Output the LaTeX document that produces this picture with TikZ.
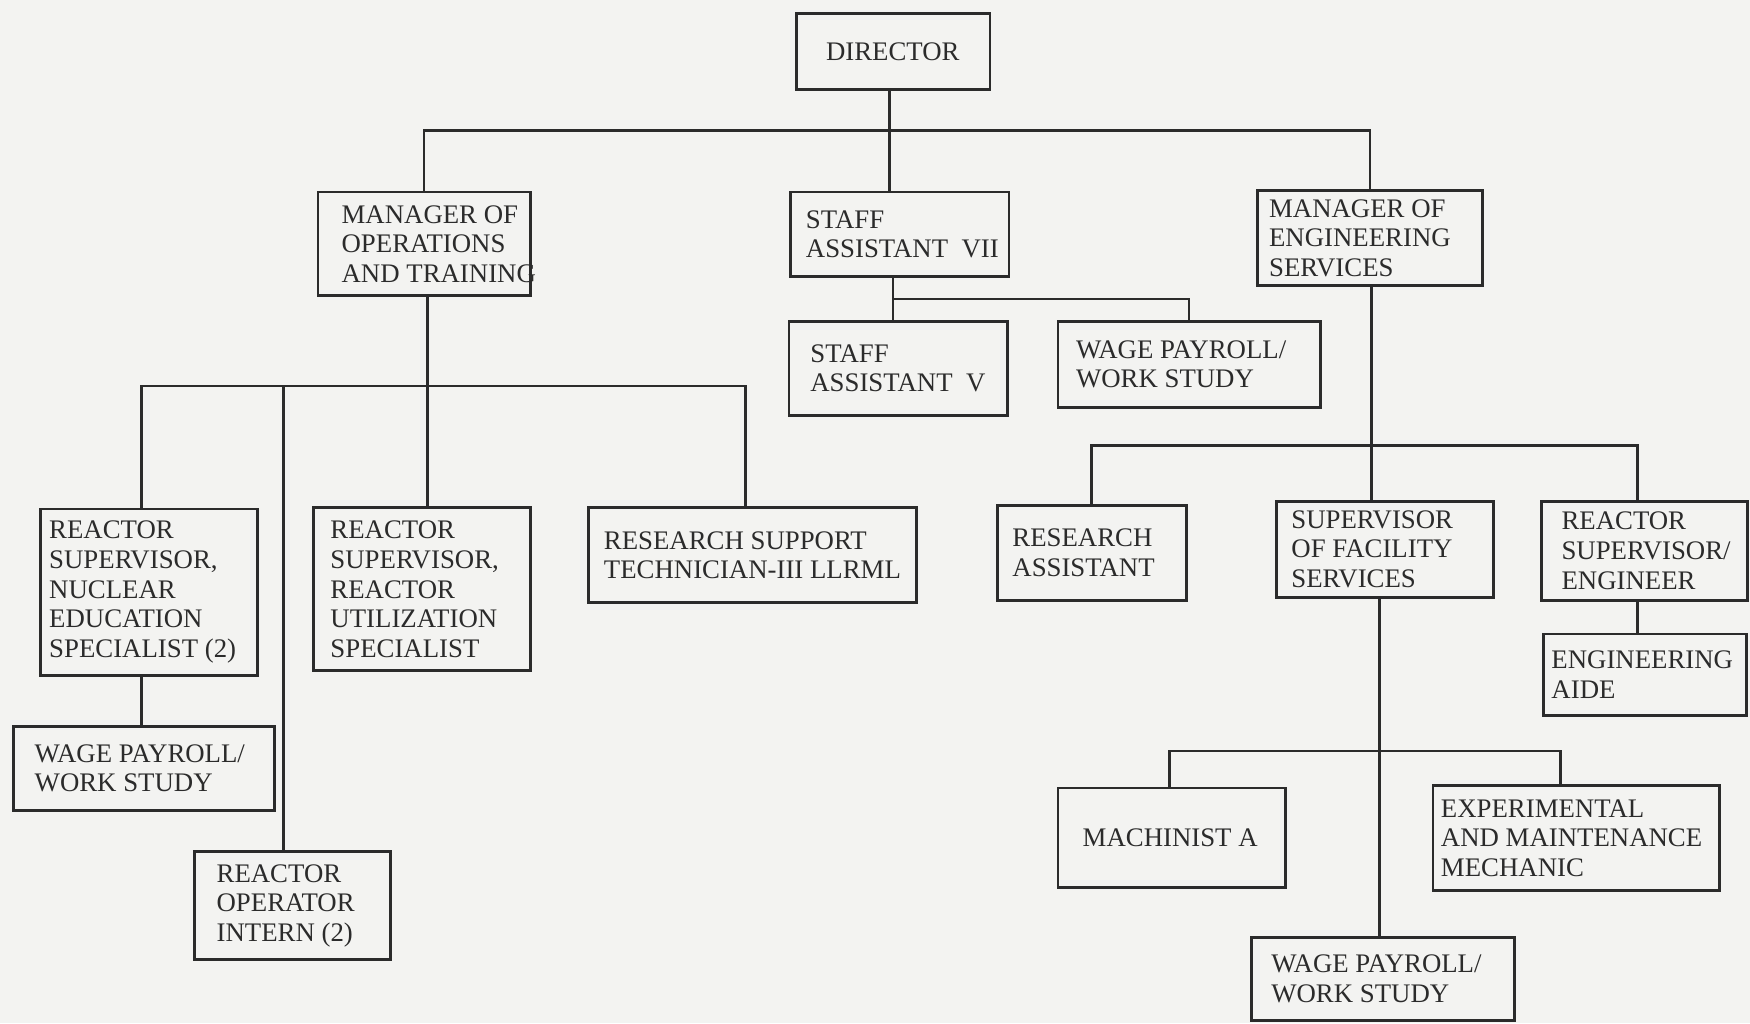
\documentclass[tikz,border=0pt]{standalone}
\usepackage{fontspec}
\setmainfont{Liberation Serif}
\usetikzlibrary{fit,calc}
\definecolor{ink}{HTML}{2B2B2B}
\definecolor{paper}{HTML}{F3F3F1}
\newcommand\orgbox[7]{%
  \node[box, fit={(#2,#3)(#4,#5)}] (#1) {};
  \node[lbl] (#1-t) at ($(#1.west)+(#6,0)$) {#7};}
\begin{document}
\begin{tikzpicture}[x=0.558pt,y=-0.558pt,
  box/.style={draw=ink, line width=1.4pt, inner sep=0pt},
  lbl/.style={anchor=west, align=left, inner sep=0pt, text=ink,
    font=\fontsize{13.4}{14.8}\selectfont},
  conn/.style={draw=ink, line width=1.3pt}]
\fill[paper] (0,0) rectangle (1568,917);
\useasboundingbox (0,0) rectangle (1568,917);

\orgbox{dir}{714}{12}{887}{80}{27}{DIRECTOR}
\orgbox{mops}{285}{172}{475}{265}{22}{MANAGER OF\\OPERATIONS\\AND TRAINING}
\orgbox{sa7}{708}{172}{904}{248}{15}{STAFF\\ASSISTANT~ VII}
\orgbox{meng}{1127}{171}{1328}{256}{11}{MANAGER OF\\ENGINEERING\\SERVICES}
\orgbox{sa5}{707}{288}{903}{372}{20}{STAFF\\ASSISTANT~ V}
\orgbox{wp1}{948}{288}{1183}{365}{17}{WAGE PAYROLL/\\WORK STUDY}
\orgbox{rsn}{36}{456}{231}{605}{9}{REACTOR\\SUPERVISOR,\\NUCLEAR\\EDUCATION\\SPECIALIST (2)}
\orgbox{wp2}{12}{651}{246}{726}{20}{WAGE PAYROLL/\\WORK STUDY}
\orgbox{roi}{174}{763}{350}{860}{21}{REACTOR\\OPERATOR\\INTERN (2)}
\orgbox{rsu}{281}{455}{475}{601}{16}{REACTOR\\SUPERVISOR,\\REACTOR\\UTILIZATION\\SPECIALIST}
\orgbox{rst}{527}{455}{821}{540}{15}{RESEARCH SUPPORT\\TECHNICIAN-III LLRML}
\orgbox{ra}{894}{453}{1063}{538}{14}{RESEARCH\\ASSISTANT}
\orgbox{sfs}{1144}{449}{1338}{535}{14}{SUPERVISOR\\OF FACILITY\\SERVICES}
\orgbox{rse}{1381}{449}{1566}{538}{19}{REACTOR\\SUPERVISOR/\\ENGINEER}
\orgbox{ea}{1383}{568}{1565}{641}{8}{ENGINEERING\\AIDE}
\orgbox{ma}{948}{706}{1152}{795}{23}{MACHINIST A}
\orgbox{emm}{1284}{704}{1541}{798}{8}{EXPERIMENTAL\\AND MAINTENANCE\\MECHANIC}
\orgbox{wp3}{1121}{840}{1357}{914}{19}{WAGE PAYROLL/\\WORK STUDY}

% top level
\coordinate (b1) at (797,117);
\draw[conn] (dir.south -| b1) -- (sa7.north -| b1);
\draw[conn] (mops.north) -- (mops.north |- b1) -- (meng.north |- b1) -- (meng.north);
% staff assistant VII
\coordinate (b2) at (800,268);
\draw[conn] (sa7.south -| b2) -- (sa5.north -| b2);
\draw[conn] (b2) -| (wp1.north);
% operations
\coordinate (b3) at (383,346);
\coordinate (b3l) at (127,346);
\coordinate (b3m) at (254,346);
\coordinate (b3r) at (668,346);
\draw[conn] (mops.south -| b3) -- (rsu.north -| b3);
\draw[conn] (rsn.north -| b3l) -- (b3l) -- (b3r) -- (rst.north -| b3r);
\draw[conn] (b3m) -- (roi.north -| b3m);
\draw[conn] (rsn.south -| b3l) -- (wp2.north -| b3l);
% engineering
\coordinate (b4) at (1229,399);
\coordinate (b4l) at (978,399);
\coordinate (b4r) at (1467,399);
\draw[conn] (meng.south -| b4) -- (sfs.north -| b4);
\draw[conn] (ra.north -| b4l) -- (b4l) -- (b4r) -- (rse.north -| b4r);
\draw[conn] (rse.south -| b4r) -- (ea.north -| b4r);
% facility services
\coordinate (b5) at (1236,673);
\coordinate (b5l) at (1048,673);
\coordinate (b5r) at (1398,673);
\draw[conn] (sfs.south -| b5) -- (wp3.north -| b5);
\draw[conn] (ma.north -| b5l) -- (b5l) -- (b5r) -- (emm.north -| b5r);
\end{tikzpicture}
\end{document}
